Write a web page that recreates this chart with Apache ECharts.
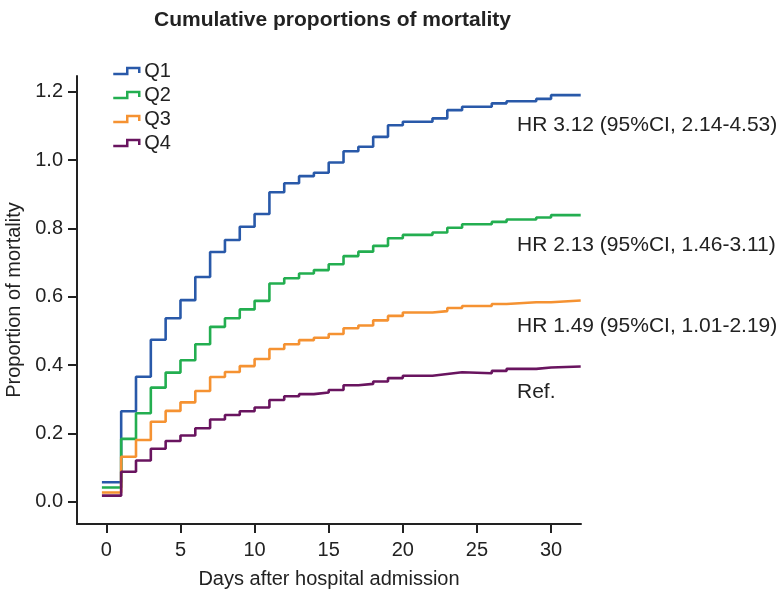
<!DOCTYPE html>
<html>
<head>
<meta charset="utf-8">
<title>Cumulative proportions of mortality</title>
<script src="https://cdn.jsdelivr.net/npm/echarts@6/dist/echarts.min.js"></script>
<style>
  html, body { margin: 0; padding: 0; background: #ffffff; }
  #chart { width: 783px; height: 591px; }
</style>
</head>
<body>
<div id="chart"></div>
<script>
// Follow-up times (days after admission) at which the curves step
const days = [-0.3, 1, 2, 3, 4, 5, 6, 7, 8, 9, 10, 11, 12, 13, 14, 15, 16, 17, 18, 19, 20, 22, 23, 24, 26, 27, 29, 30, 32];

// Cumulative proportion of mortality per quartile at each time above
const q1 = [0.057, 0.265, 0.366, 0.474, 0.537, 0.590, 0.658, 0.731, 0.766, 0.805, 0.842, 0.906, 0.932, 0.953, 0.963, 0.993, 1.026, 1.039, 1.068, 1.102, 1.112, 1.122, 1.146, 1.156, 1.166, 1.172, 1.179, 1.190, 1.190];
const q2 = [0.042, 0.184, 0.259, 0.334, 0.378, 0.414, 0.461, 0.512, 0.537, 0.563, 0.588, 0.639, 0.654, 0.668, 0.678, 0.695, 0.719, 0.732, 0.749, 0.771, 0.781, 0.788, 0.802, 0.812, 0.819, 0.826, 0.832, 0.839, 0.839];
const q3 = [0.027, 0.132, 0.181, 0.234, 0.266, 0.291, 0.324, 0.365, 0.380, 0.397, 0.418, 0.447, 0.461, 0.473, 0.480, 0.491, 0.508, 0.516, 0.531, 0.544, 0.554, 0.558, 0.567, 0.573, 0.579, 0.584, 0.584, 0.589, 0.589];
const q4 = [0.018, 0.088, 0.121, 0.155, 0.178, 0.194, 0.215, 0.241, 0.254, 0.265, 0.276, 0.298, 0.309, 0.315, 0.320, 0.327, 0.341, 0.345, 0.352, 0.362, 0.369, 0.374, 0.379, 0.376, 0.383, 0.389, 0.393, 0.396, 0.396];

const seriesNames = ['Q1', 'Q2', 'Q3', 'Q4'];
const seriesColors = ['#2959a9', '#23ae50', '#f59232', '#69145f'];

const xTicks = [0, 5, 10, 15, 20, 25, 30];
const yTicks = [0, 0.2, 0.4, 0.6, 0.8, 1.0, 1.2];

// Hazard ratio annotations, one per quartile curve (top to bottom)
const hrLabels = [
  'HR 3.12 (95%CI, 2.14-4.53)',
  'HR 2.13 (95%CI, 1.46-3.11)',
  'HR 1.49 (95%CI, 1.01-2.19)',
  'Ref.'
];

const FONT = '"Liberation Sans", Arial, Helvetica, sans-serif';
const INK = '#222222';

const chart = echarts.init(document.getElementById('chart'), null, { renderer: 'canvas' });

const curves = [q1, q2, q3, q4];

const series = curves.map((vals, k) => ({
  name: seriesNames[k],
  type: 'line',
  step: 'end',
  showSymbol: false,
  symbol: 'none',
  silent: true,
  animation: false,
  lineStyle: { color: seriesColors[k], width: 2.6 },
  itemStyle: { color: seriesColors[k] },
  data: days.map((d, i) => [d, vals[i]])
}));

const hrY = [126, 246, 327, 393];

chart.setOption({
  animation: false,
  backgroundColor: '#ffffff',
  textStyle: { fontFamily: FONT },
  title: {
    text: 'Cumulative proportions of mortality',
    left: 149,
    top: 5,
    textStyle: { fontFamily: FONT, fontSize: 21, fontWeight: 'bold', color: INK }
  },
  legend: {
    orient: 'vertical',
    left: 112,
    top: 61,
    padding: 0,
    itemGap: 4,
    itemWidth: 26,
    itemHeight: 6,
    icon: 'path://M0,6 L14,6 L14,0 L26,0 L26,5',
    itemStyle: { color: 'transparent', borderWidth: 2.5 },
    textStyle: { fontFamily: FONT, fontSize: 20, color: INK, lineHeight: 20 },
    data: seriesNames.map((n, k) => ({ name: n, itemStyle: { borderColor: seriesColors[k], color: 'transparent' } })),
    selectedMode: false
  },
  grid: { left: 77, top: 76, width: 504, height: 448, outerBoundsMode: 'none', containLabel: false },
  xAxis: {
    type: 'value',
    min: -1.98,
    max: 32.02,
    name: 'Days after hospital admission',
    nameLocation: 'middle',
    nameGap: 45,
    nameTextStyle: { fontFamily: FONT, fontSize: 20, color: INK },
    axisLine: { show: true, onZero: false, lineStyle: { color: INK, width: 2 } },
    axisTick: { show: true, length: 9, lineStyle: { color: INK, width: 2 }, customValues: xTicks },
    axisLabel: { margin: 16, fontFamily: FONT, fontSize: 20, color: INK, customValues: xTicks },
    splitLine: { show: false }
  },
  yAxis: {
    type: 'value',
    min: -0.065,
    max: 1.246,
    name: 'Proportion of mortality',
    nameLocation: 'middle',
    nameGap: 51,
    nameTextStyle: { fontFamily: FONT, fontSize: 20, color: INK },
    axisLine: { show: true, onZero: false, lineStyle: { color: INK, width: 2 } },
    axisTick: { show: true, length: 9, lineStyle: { color: INK, width: 2 }, customValues: yTicks },
    axisLabel: {
      margin: 14, fontFamily: FONT, fontSize: 20, color: INK, customValues: yTicks,
      formatter: v => v.toFixed(1)
    },
    splitLine: { show: false }
  },
  graphic: hrLabels.map((t, k) => ({
    type: 'text',
    left: 517,
    top: hrY[k] - 11,
    silent: true,
    style: { text: t, fontFamily: FONT, fontSize: 21, fill: INK }
  })),
  series: series
});
</script>
</body>
</html>
